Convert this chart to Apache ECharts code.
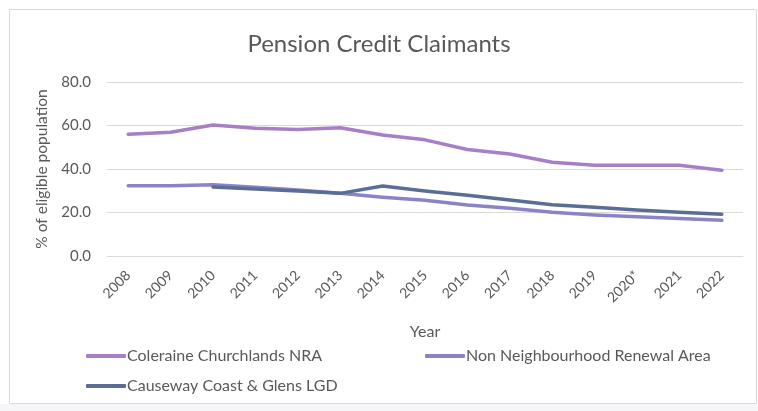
<!DOCTYPE html>
<html>
<head>
<meta charset="utf-8">
<script src="https://cdn.jsdelivr.net/npm/echarts@6/dist/echarts.min.js"></script>
<style>
  html, body { margin: 0; padding: 0; background: #fff; }
  #chart { width: 758px; height: 411px; }
</style>
</head>
<body>
<div id="chart"></div>
<script>
// 数据
const years = ['2008', '2009', '2010', '2011', '2012', '2013', '2014', '2015', '2016', '2017', '2018', '2019', '2020*', '2021', '2022']
const coleraine = [56.0, 56.9, 60.2, 58.7, 58.2, 59.0, 55.6, 53.4, 49.0, 46.9, 43.1, 41.7, 41.7, 41.7, 39.4]
const nonNra = [32.3, 32.3, 32.8, 31.6, 30.3, 28.8, 27.0, 25.6, 23.4, 21.9, 20.1, 18.9, 18.1, 17.2, 16.4]
const causeway = [null, null, 31.7, 30.8, 29.9, 28.8, 32.2, 29.9, 27.9, 25.7, 23.6, 22.4, 21.1, 20.1, 19.2]
const yTicks = [0, 20, 40, 60, 80]

const names = ['Coleraine Churchlands NRA', 'Non Neighbourhood Renewal Area', 'Causeway Coast & Glens LGD']
const colors = ['#a77fc6', '#8b83c8', '#5a6e95']
const font = 'Lato, "Open Sans", sans-serif'

let mychart = echarts.init(document.getElementById('chart'))

// 图例：每项单独放置
function legendAt(name, left, top) {
  return {
    data: [name],
    left: left,
    top: top,
    padding: 0,
    icon: 'roundRect',
    itemWidth: 40,
    itemHeight: 4,
    textStyle: { color: '#595959', fontSize: 16, lineHeight: 18, fontFamily: font, padding: [0, 0, 0, -4] }
  }
}

function lineSeries(name, data, color) {
  return {
    name: name,
    type: 'line',
    data: data,
    symbol: 'none',
    connectNulls: false,
    lineStyle: { width: 3.5, color: color, cap: 'round', join: 'round' },
    itemStyle: { color: color }
  }
}

let option = {
  animation: false,
  title: {
    text: 'Pension Credit Claimants',
    left: 'center',
    top: 27,
    textStyle: { color: '#595959', fontSize: 24, fontWeight: 'normal', fontFamily: font }
  },
  graphic: [{
    type: 'rect',
    shape: { x: 0, y: 404, width: 758, height: 7 },
    style: { fill: '#f6f5f8' },
    silent: true
  }, {
    type: 'rect',
    shape: { x: 9.5, y: 9.5, width: 747, height: 394 },
    style: { fill: 'none', stroke: '#d9d9d9', lineWidth: 1 },
    silent: true
  }],
  legend: [
    legendAt(names[0], 86, 347),
    legendAt(names[1], 425, 347),
    legendAt(names[2], 86, 377)
  ],
  grid: { left: 107, right: 15, top: 82, bottom: 155 },
  xAxis: {
    type: 'category',
    data: years,
    boundaryGap: true,
    name: 'Year',
    nameLocation: 'middle',
    nameGap: 68,
    nameTextStyle: { color: '#595959', fontSize: 16, fontFamily: font, verticalAlign: 'top' },
    axisLine: { show: true, lineStyle: { color: '#d9d9d9' } },
    axisTick: { show: false },
    axisLabel: { rotate: 45, color: '#595959', fontSize: 14, fontFamily: font, margin: 17 }
  },
  yAxis: {
    type: 'value',
    min: yTicks[0],
    max: yTicks[yTicks.length - 1],
    interval: 20,
    name: '% of eligible population',
    nameLocation: 'middle',
    nameGap: 57,
    nameTextStyle: { color: '#595959', fontSize: 15.5, fontFamily: font },
    axisLine: { show: false },
    axisTick: { show: false },
    axisLabel: { color: '#595959', fontSize: 15, fontFamily: font, margin: 16, formatter: v => v.toFixed(1) },
    splitLine: { lineStyle: { color: '#d9d9d9', width: 1 } }
  },
  series: [
    lineSeries(names[0], coleraine, colors[0]),
    lineSeries(names[1], nonNra, colors[1]),
    lineSeries(names[2], causeway, colors[2])
  ]
}

mychart.setOption(option)
</script>
</body>
</html>
